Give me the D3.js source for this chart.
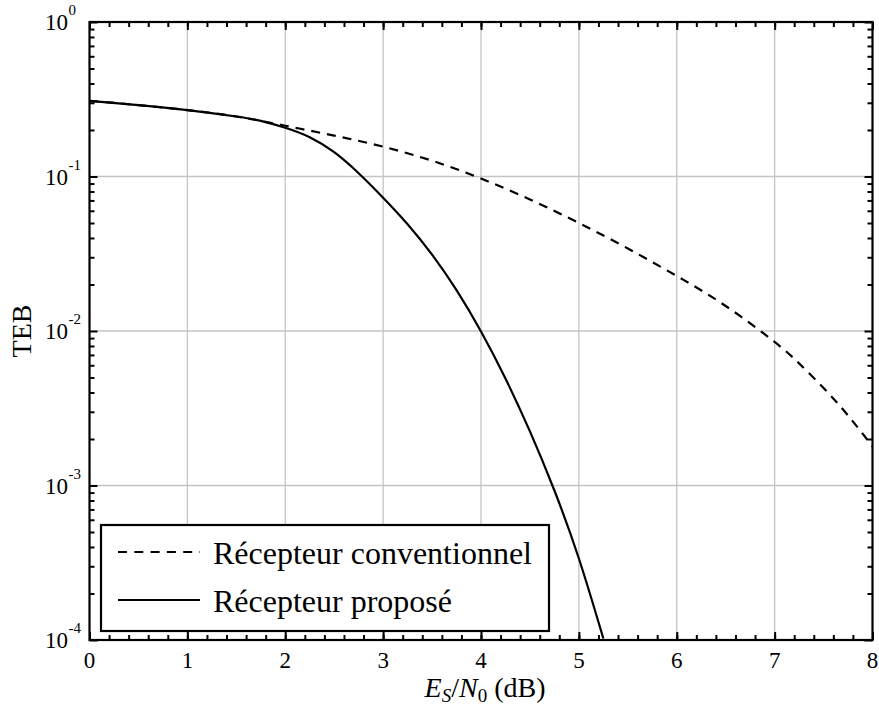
<!DOCTYPE html>
<html>
<head>
<meta charset="utf-8">
<script src="https://cdn.jsdelivr.net/npm/d3@7"></script>
<style>
  body { margin: 0; background: #fff; }
  text { font-family: "Liberation Serif", "Times New Roman", serif; fill: #000; }
</style>
</head>
<body>
<svg id="chart" width="879" height="706"></svg>
<script>
// E_S/N_0 (dB) abscissae and BER values
var snrConv = [0, 0.5, 1, 1.5, 2, 2.5, 3, 3.5, 4, 4.5, 5, 5.5, 6, 6.5, 7, 7.25, 7.5, 7.75, 8];
var berConv = [0.309, 0.290, 0.269, 0.2445, 0.213, 0.184, 0.156, 0.1265, 0.097, 0.071, 0.050,
               0.0342, 0.0227, 0.01452, 0.00849, 0.00617, 0.00428, 0.00284, 0.00179];

var snrProp = [0, 0.5, 1, 1.5, 1.75, 2, 2.25, 2.5, 2.75, 3, 3.25, 3.5, 3.75, 4, 4.25, 4.5, 4.75, 5, 5.25];
var berProp = [0.309, 0.290, 0.269, 0.2445, 0.2293, 0.2069, 0.1797, 0.1437, 0.105, 0.0729, 0.0491,
               0.0312, 0.01837, 0.00993, 0.00493, 0.00224, 0.000928, 0.000337, 0.0001023];

var xTicks = [0, 1, 2, 3, 4, 5, 6, 7, 8];
var yExponents = [0, -1, -2, -3, -4];
var legendLabels = ["Récepteur conventionnel", "Récepteur proposé"];

var svg = d3.select("#chart");
// note: "top" is taken by window.top, so plot edges get their own names
var pLeft = 89.5, pRight = 872.5, pTop = 22, pBottom = 640;

var x = d3.scaleLinear().domain([0, 8]).range([pLeft, pRight]);
var y = d3.scaleLog().domain([1e-4, 1]).range([pBottom, pTop]);

// grid
var grid = svg.append("g").attr("stroke", "#c4c4c4").attr("stroke-width", 1.3);
grid.selectAll(".gx").data(xTicks.slice(1, -1)).enter().append("line")
    .attr("x1", d => x(d)).attr("x2", d => x(d))
    .attr("y1", pTop).attr("y2", pBottom);
grid.selectAll(".gy").data(yExponents.slice(1, -1)).enter().append("line")
    .attr("x1", pLeft).attr("x2", pRight)
    .attr("y1", d => y(Math.pow(10, d))).attr("y2", d => y(Math.pow(10, d)));

// curves
svg.append("clipPath").attr("id", "clip").append("rect")
    .attr("x", pLeft).attr("y", pTop).attr("width", pRight - pLeft).attr("height", pBottom - pTop);

var line = d3.line()
    .x(d => x(d[0]))
    .y(d => y(d[1]))
    .curve(d3.curveNatural);

var curves = svg.append("g").attr("clip-path", "url(#clip)");
curves.append("path")
    .datum(d3.zip(snrConv, berConv))
    .attr("d", line)
    .attr("fill", "none").attr("stroke", "#000").attr("stroke-width", 2.2)
    .attr("stroke-dasharray", "9,7");
curves.append("path")
    .datum(d3.zip(snrProp, berProp))
    .attr("d", line)
    .attr("fill", "none").attr("stroke", "#000").attr("stroke-width", 2.2);

// inward ticks on all four sides
var xMinor = d3.range(0, 8.001, 0.2).map(v => +v.toFixed(1));
var yMinor = [];
for (var e = -4; e < 0; e++) {
    for (var m = 2; m <= 9; m++) yMinor.push(m * Math.pow(10, e));
}
var yMajor = yExponents.map(d => Math.pow(10, d));

function tickGroup(axis, tx, ty) {
    svg.append("g").attr("transform", "translate(" + tx + "," + ty + ")")
        .call(axis)
        .call(g => g.select(".domain").remove())
        .call(g => g.selectAll("line").attr("stroke", "#000").attr("stroke-width", 2))
        .call(g => g.selectAll("text").remove());
}
tickGroup(d3.axisBottom(x).tickValues(xMinor).tickSize(-5), 0, pBottom);
tickGroup(d3.axisBottom(x).tickValues(xTicks).tickSize(-8), 0, pBottom);
tickGroup(d3.axisTop(x).tickValues(xMinor).tickSize(-5), 0, pTop);
tickGroup(d3.axisTop(x).tickValues(xTicks).tickSize(-8), 0, pTop);
tickGroup(d3.axisLeft(y).tickValues(yMinor).tickSize(-5), pLeft, 0);
tickGroup(d3.axisLeft(y).tickValues(yMajor).tickSize(-8), pLeft, 0);
tickGroup(d3.axisRight(y).tickValues(yMinor).tickSize(-5), pRight, 0);
tickGroup(d3.axisRight(y).tickValues(yMajor).tickSize(-8), pRight, 0);

// frame
svg.append("rect")
    .attr("x", pLeft).attr("y", pTop).attr("width", pRight - pLeft).attr("height", pBottom - pTop)
    .attr("fill", "none").attr("stroke", "#000").attr("stroke-width", 2.2);

// tick labels
svg.selectAll(".xl").data(xTicks).enter().append("text")
    .attr("x", d => x(d)).attr("y", 668)
    .attr("text-anchor", "middle").attr("font-size", 23)
    .text(d => d);

var yl = svg.selectAll(".yl").data(yExponents).enter().append("g")
    .attr("transform", d => "translate(0," + y(Math.pow(10, d)) + ")");
yl.append("text").attr("x", 68).attr("y", 8)
    .attr("text-anchor", "end").attr("font-size", 23).text("10");
yl.append("text").attr("x", 68.5).attr("y", -7)
    .attr("font-size", 15).text(d => d);

// axis titles
svg.append("text")
    .attr("transform", "translate(31," + ((pTop + pBottom) / 2) + ") rotate(-90)")
    .attr("text-anchor", "middle").attr("font-size", 28).text("TEB");

var xt = svg.append("text")
    .attr("x", (pLeft + pRight) / 2 + 4).attr("y", 697)
    .attr("text-anchor", "middle").attr("font-size", 28);
xt.append("tspan").attr("font-style", "italic").text("E");
xt.append("tspan").attr("font-style", "italic").attr("font-size", 19).attr("dy", 5).text("S");
xt.append("tspan").attr("dy", -5).text("/");
xt.append("tspan").attr("font-style", "italic").text("N");
xt.append("tspan").attr("font-size", 19).attr("dy", 5).text("0");
xt.append("tspan").attr("dy", -5).text(" (dB)");

// legend
var lg = svg.append("g");
lg.append("rect")
    .attr("x", 101).attr("y", 525).attr("width", 448).attr("height", 106)
    .attr("fill", "#fff").attr("stroke", "#000").attr("stroke-width", 2.2);
var rows = lg.selectAll(".row").data(legendLabels).enter().append("g")
    .attr("transform", (d, i) => "translate(0," + (552 + i * 48) + ")");
rows.append("line")
    .attr("x1", 118).attr("x2", 200).attr("y1", 0).attr("y2", 0)
    .attr("stroke", "#000").attr("stroke-width", 2.2)
    .attr("stroke-dasharray", (d, i) => i === 0 ? "9,7.3" : null);
rows.append("text")
    .attr("x", 213).attr("y", 12)
    .attr("font-size", 32).text(d => d);
</script>
</body>
</html>
